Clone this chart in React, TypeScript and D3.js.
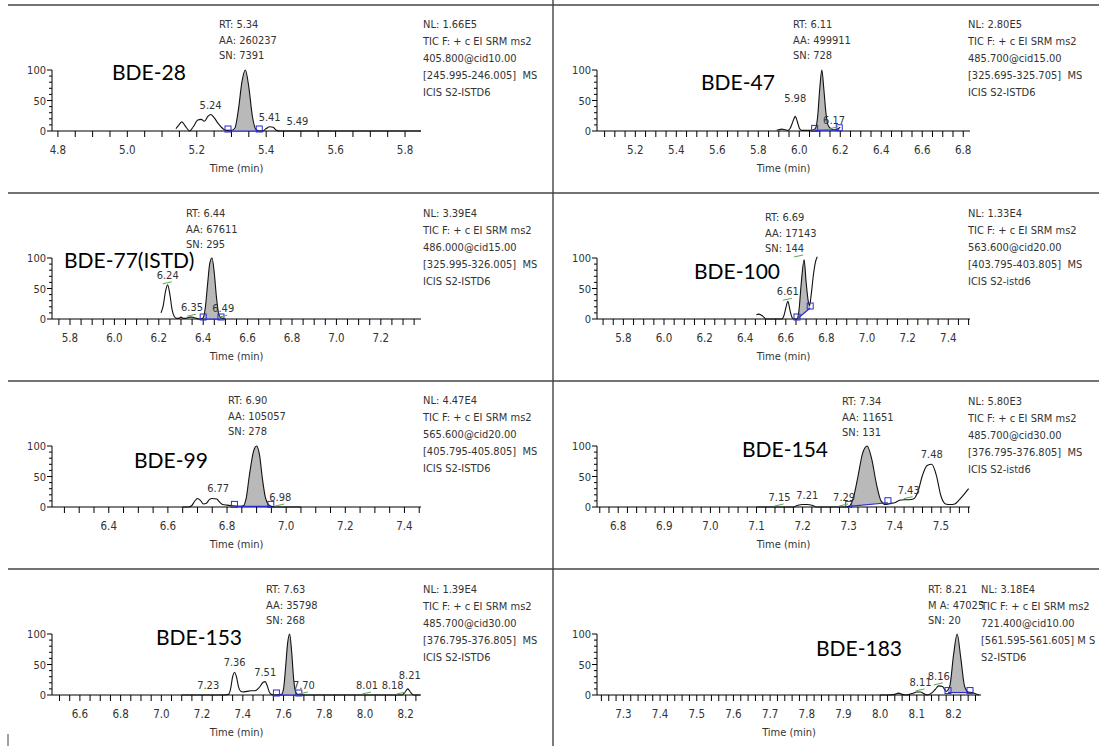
import React from "react";
import * as d3 from "d3";

type Pt = [number, number];
type PeakLabel = [string, number, number, boolean];

// ---- data ----
const compounds = ["BDE-28", "BDE-47", "BDE-77(ISTD)", "BDE-100", "BDE-99", "BDE-154", "BDE-153", "BDE-183"];

const rtBlocks = [
  ["RT: 5.34", "AA: 260237", "SN: 7391"],
  ["RT: 6.11", "AA: 499911", "SN: 728"],
  ["RT: 6.44", "AA: 67611", "SN: 295"],
  ["RT: 6.69", "AA: 17143", "SN: 144"],
  ["RT: 6.90", "AA: 105057", "SN: 278"],
  ["RT: 7.34", "AA: 11651", "SN: 131"],
  ["RT: 7.63", "AA: 35798", "SN: 268"],
  ["RT: 8.21", "M A: 47025", "SN: 20"],
];

const nlBlocks = [
  ["NL: 1.66E5", "TIC F: + c EI SRM ms2", "405.800@cid10.00", "[245.995-246.005]  MS", "ICIS S2-ISTD6"],
  ["NL: 2.80E5", "TIC F: + c EI SRM ms2", "485.700@cid15.00", "[325.695-325.705]  MS", "ICIS S2-ISTD6"],
  ["NL: 3.39E4", "TIC F: + c EI SRM ms2", "486.000@cid15.00", "[325.995-326.005]  MS", "ICIS S2-ISTD6"],
  ["NL: 1.33E4", "TIC F: + c EI SRM ms2", "563.600@cid20.00", "[403.795-403.805]  MS", "ICIS S2-istd6"],
  ["NL: 4.47E4", "TIC F: + c EI SRM ms2", "565.600@cid20.00", "[405.795-405.805]  MS", "ICIS S2-ISTD6"],
  ["NL: 5.80E3", "TIC F: + c EI SRM ms2", "485.700@cid30.00", "[376.795-376.805]  MS", "ICIS S2-istd6"],
  ["NL: 1.39E4", "TIC F: + c EI SRM ms2", "485.700@cid30.00", "[376.795-376.805]  MS", "ICIS S2-ISTD6"],
  ["NL: 3.18E4", "TIC F: + c EI SRM ms2", "721.400@cid10.00", "[561.595-561.605] M S", "S2-ISTD6"],
];

const xDomains: [number, number][] = [
  [4.783, 5.846],
  [5.013, 6.833],
  [5.719, 7.381],
  [5.67, 7.507],
  [6.208, 7.456],
  [6.754, 7.563],
  [6.463, 8.275],
  [7.228, 8.275],
];
const tickSteps = [0.05, 0.05, 0.05, 0.05, 0.05, 0.02, 0.05, 0.02];
const labelSteps = [0.2, 0.2, 0.2, 0.2, 0.2, 0.1, 0.2, 0.1];
const yTickValues = [0, 10, 20, 30, 40, 50, 60, 70, 80, 90, 100];
const yLabelValues = [0, 50, 100];

// relative abundance (%) vs time (min)
const trace28: Pt[] = [
  [5.14, 4], [5.15, 11], [5.157, 15], [5.167, 8], [5.18, 0], [5.19, 7], [5.203, 18], [5.213, 19],
  [5.222, 16], [5.232, 24], [5.24, 27], [5.25, 22], [5.262, 12], [5.275, 4], [5.285, 1], [5.30, 1],
  [5.31, 5], [5.32, 35], [5.33, 80], [5.34, 100], [5.35, 72], [5.36, 25], [5.37, 3], [5.38, 0],
  [5.39, 0], [5.40, 4], [5.41, 7], [5.42, 6], [5.43, 1], [5.44, 0], [5.60, 0], [5.846, 0],
];
const trace47: Pt[] = [
  [5.89, 1], [5.90, 2], [5.915, 3], [5.93, 2], [5.945, 1], [5.955, 4], [5.965, 12], [5.975, 21],
  [5.98, 24], [5.99, 16], [6.00, 5], [6.01, 1], [6.03, 1], [6.05, 1], [6.07, 2], [6.08, 5],
  [6.09, 25], [6.10, 70], [6.11, 100], [6.12, 68], [6.13, 30], [6.14, 10], [6.15, 5], [6.16, 3],
  [6.17, 2], [6.18, 2], [6.19, 4], [6.20, 6],
];
const trace77: Pt[] = [
  [6.21, 10], [6.22, 22], [6.23, 45], [6.24, 56], [6.25, 40], [6.26, 15], [6.27, 4], [6.28, 1],
  [6.29, 1], [6.30, 3], [6.31, 1], [6.32, 1], [6.33, 2], [6.34, 3], [6.35, 3], [6.36, 2],
  [6.37, 1], [6.38, 0], [6.39, 0], [6.40, 2], [6.41, 20], [6.42, 58], [6.43, 92], [6.44, 100],
  [6.45, 75], [6.46, 35], [6.47, 8], [6.48, 2], [6.49, 1], [6.50, 0],
];
const trace100: Pt[] = [
  [6.455, 7], [6.465, 8], [6.48, 6], [6.495, 2], [6.50, 0], [6.52, 0], [6.54, 0], [6.56, 0],
  [6.58, 0], [6.59, 5], [6.60, 18], [6.61, 29], [6.62, 15], [6.63, 3], [6.64, 0], [6.655, 0],
  [6.665, 15], [6.675, 55], [6.69, 97], [6.70, 60], [6.71, 30], [6.717, 22], [6.725, 40],
  [6.735, 70], [6.745, 92], [6.755, 102],
];
const trace99: Pt[] = [
  [6.65, 0], [6.67, 0], [6.68, 2], [6.69, 9], [6.70, 14], [6.71, 11], [6.72, 5], [6.73, 6],
  [6.74, 12], [6.75, 14], [6.765, 13], [6.775, 8], [6.785, 4], [6.80, 3], [6.82, 2], [6.84, 1],
  [6.855, 2], [6.865, 15], [6.875, 50], [6.89, 92], [6.90, 100], [6.91, 85], [6.92, 45],
  [6.93, 15], [6.94, 4], [6.95, 1], [6.965, 0], [7.05, 0],
];
const trace154: Pt[] = [
  [7.10, 0], [7.14, 0], [7.18, 0], [7.19, 3], [7.20, 4], [7.21, 4], [7.22, 3], [7.23, 0],
  [7.26, 0], [7.29, 0], [7.30, 1], [7.31, 15], [7.32, 50], [7.33, 88], [7.34, 100], [7.35, 78],
  [7.36, 38], [7.37, 10], [7.38, 4], [7.39, 6], [7.40, 7], [7.41, 11], [7.42, 12], [7.43, 12],
  [7.44, 13], [7.45, 25], [7.46, 52], [7.47, 68], [7.48, 70], [7.49, 52], [7.50, 18], [7.51, 5],
  [7.52, 4], [7.53, 5], [7.54, 12], [7.56, 30],
];
const trace153: Pt[] = [
  [7.10, 0], [7.20, 0], [7.30, 0], [7.33, 1], [7.34, 10], [7.35, 30], [7.36, 37], [7.37, 28],
  [7.38, 12], [7.39, 6], [7.40, 5], [7.42, 6], [7.44, 7], [7.46, 7], [7.48, 12], [7.50, 21],
  [7.51, 22], [7.52, 15], [7.53, 5], [7.54, 1], [7.56, 0], [7.59, 1], [7.60, 10], [7.61, 45],
  [7.62, 85], [7.63, 100], [7.64, 70], [7.65, 25], [7.66, 4], [7.67, 1], [7.70, 0], [7.90, 0],
  [8.10, 0], [8.18, 0], [8.195, 4], [8.21, 10], [8.225, 4], [8.24, 0], [8.27, 0],
];
const trace183: Pt[] = [
  [8.00, 0], [8.02, 0], [8.04, 1], [8.05, 3], [8.06, 1], [8.07, 0], [8.08, 1], [8.09, 3],
  [8.10, 5], [8.11, 5], [8.12, 2], [8.13, 0], [8.14, 3], [8.15, 9], [8.16, 15], [8.17, 14],
  [8.18, 6], [8.19, 15], [8.20, 65], [8.21, 100], [8.22, 60], [8.23, 15], [8.24, 5], [8.25, 4],
  [8.26, 2], [8.27, 0],
];
const traces = [trace28, trace47, trace77, trace100, trace99, trace154, trace153, trace183];

// integration start / end [time, level]
const integrations: [Pt, Pt][] = [
  [[5.29, 0], [5.38, 0]],
  [[6.075, 1], [6.195, 2]],
  [[6.40, 0], [6.48, 0]],
  [[6.655, 0], [6.72, 18]],
  [[6.825, 1], [6.948, 1]],
  [[7.30, 1], [7.385, 7]],
  [[7.565, 0], [7.675, 0]],
  [[8.185, 4], [8.245, 4]],
];

// [text, time, apex level, green apex mark]
const peakLabels: PeakLabel[][] = [
  [["5.24", 5.24, 27, false], ["5.41", 5.41, 7, false], ["5.49", 5.49, 0, false]],
  [["5.98", 5.98, 24, false], ["6.17", 6.17, 2, true]],
  [["6.24", 6.24, 56, true], ["6.35", 6.35, 3, true], ["6.49", 6.49, 1, true]],
  [["6.61", 6.61, 29, true], ["", 6.665, 100, true]],
  [["6.77", 6.77, 14, false], ["6.98", 6.98, 0, true]],
  [["7.15", 7.15, 0, true], ["7.21", 7.21, 4, false], ["7.29", 7.29, 0, true], ["7.43", 7.43, 12, true], ["7.48", 7.48, 70, false]],
  [["7.23", 7.23, 0, false], ["7.36", 7.36, 37, false], ["7.51", 7.51, 22, false], ["7.70", 7.70, 0, true], ["8.01", 8.01, 0, true], ["8.18", 8.18, 0, true], ["8.21", 8.21, 10, false]],
  [["8.11", 8.11, 5, true], ["8.16", 8.16, 15, true]],
];

// ---- layout ----
const layout = [
  { ax: 52, xEnd: 421, y0: 131, rtX: 219, rtY: 28, nlX: 423, nlY: 28, lblX: 112, lblY: 80 },
  { ax: 597, xEnd: 970, y0: 131, rtX: 793, rtY: 28, nlX: 968, nlY: 28, lblX: 701, lblY: 90 },
  { ax: 52, xEnd: 421, y0: 319, rtX: 186, rtY: 217, nlX: 423, nlY: 217, lblX: 64, lblY: 268 },
  { ax: 597, xEnd: 970, y0: 319, rtX: 765, rtY: 221, nlX: 968, nlY: 217, lblX: 694, lblY: 279 },
  { ax: 52, xEnd: 421, y0: 507, rtX: 228, rtY: 404, nlX: 423, nlY: 404, lblX: 134, lblY: 468 },
  { ax: 597, xEnd: 970, y0: 507, rtX: 842, rtY: 405, nlX: 968, nlY: 405, lblX: 742, lblY: 457 },
  { ax: 52, xEnd: 421, y0: 695, rtX: 266, rtY: 593, nlX: 423, nlY: 593, lblX: 156, lblY: 645 },
  { ax: 597, xEnd: 981, y0: 695, rtX: 928, rtY: 593, nlX: 981, nlY: 593, lblX: 816, lblY: 656 },
];
// small pixel nudges for crowded peak labels [panel, label, dx, dy]
const labelNudges: [number, string, number, number][] = [
  [6, "8.18", -9, 0],
  [6, "8.21", 2, -4],
  [1, "5.98", 0, -8],
];
const plotH = 61;
const narrow = "'Liberation Sans Narrow', 'Arial Narrow', 'DejaVu Sans Condensed', sans-serif";
const bigFont = "Lato, 'Open Sans', sans-serif";
const textCol = "#333";
const blue = "#2b2bd0";
const green = "#55aa55";

function Panel({ i }: { i: number }) {
  const L = layout[i];
  const dom = xDomains[i];
  const x = d3.scaleLinear().domain(dom).range([L.ax, L.xEnd]);
  const y = d3.scaleLinear().domain([0, 100]).range([L.y0, L.y0 - plotH]);
  const step = tickSteps[i];
  const k0 = Math.ceil(dom[0] / step - 1e-6);
  const k1 = Math.floor(dom[1] / step + 1e-6);
  const xt = d3.range(k0, k1 + 1).map((k) => +(k * step).toFixed(3));
  const lstep = labelSteps[i];
  const isLab = (v: number) => Math.abs(v / lstep - Math.round(v / lstep)) < 1e-4;

  const line = d3.line<Pt>().x((d) => x(d[0])).y((d) => y(d[1])).curve(d3.curveMonotoneX);
  const [s, e] = integrations[i];
  const base = (t: number) => s[1] + ((e[1] - s[1]) * (t - s[0])) / (e[0] - s[0]);
  const inner = traces[i].filter((p) => p[0] > s[0] && p[0] < e[0]);
  const fillPts: Pt[] = [[s[0], base(s[0])], ...inner, [e[0], base(e[0])]];
  const area = d3
    .area<Pt>()
    .x((d) => x(d[0]))
    .y0((d) => y(base(d[0])))
    .y1((d) => y(Math.max(d[1], base(d[0]))))
    .curve(d3.curveMonotoneX);
  const nudge = (txt: string) => labelNudges.find((n) => n[0] === i && n[1] === txt) || [i, txt, 0, 0];

  return (
    <g>
      {/* y axis */}
      <line x1={L.ax} x2={L.ax} y1={y(100)} y2={y(0)} stroke="#000" strokeWidth={1} />
      {yTickValues.map((v) => (
        <line key={"yt" + v} x1={L.ax - (yLabelValues.includes(v) ? 5 : 3)} x2={L.ax} y1={y(v)} y2={y(v)} stroke="#000" strokeWidth={1} />
      ))}
      {yLabelValues.map((v) => (
        <text key={"yl" + v} x={L.ax - 6} y={y(v) + 4} textAnchor="end" fontFamily={narrow} fontSize={11} fill={textCol}>
          {v}
        </text>
      ))}
      {/* x axis */}
      <line x1={L.ax} x2={L.xEnd} y1={L.y0} y2={L.y0} stroke="#000" strokeWidth={1} />
      {xt.map((v) => (
        <line key={"xt" + v} x1={x(v)} x2={x(v)} y1={L.y0} y2={L.y0 + 6} stroke="#000" strokeWidth={1} />
      ))}
      {xt.filter(isLab).map((v) => (
        <text key={"xl" + v} x={x(v)} y={L.y0 + 23} textAnchor="middle" fontFamily={narrow} fontSize={11.5} fill={textCol}>
          {d3.format(".1f")(v)}
        </text>
      ))}
      <text x={(L.ax + L.xEnd) / 2} y={L.y0 + 41} textAnchor="middle" fontFamily={narrow} fontSize={11} fill={textCol}>
        Time (min)
      </text>

      {/* integrated peak */}
      <path d={area(fillPts) || ""} fill="#b9b9b9" stroke="none" />
      <path d={line(traces[i]) || ""} fill="none" stroke="#111" strokeWidth={1.1} />
      <line x1={x(s[0])} y1={y(s[1])} x2={x(e[0])} y2={y(e[1])} stroke={blue} strokeWidth={1.2} />
      {[s, e].map((p, j) => (
        <rect key={"bx" + j} x={x(p[0]) - 3} y={y(p[1]) - 5} width={6} height={6} fill="none" stroke={blue} strokeWidth={1} />
      ))}

      {/* peak labels */}
      {peakLabels[i].map(([txt, t, apex, g], j) => {
        const [, , dx, dy] = nudge(txt);
        return (
          <g key={"pl" + j}>
            {g && (
              <line x1={x(t) - 5} x2={x(t) + 4} y1={y(apex) - 1} y2={y(apex) - 3} stroke={green} strokeWidth={1} />
            )}
            {txt && (
              <text x={x(t) + dx} y={y(apex) - 6 + dy} textAnchor="middle" fontFamily={narrow} fontSize={11} fill={textCol}>
                {txt}
              </text>
            )}
          </g>
        );
      })}

      {/* info blocks */}
      {rtBlocks[i].map((tx, j) => (
        <text key={"rt" + j} x={L.rtX} y={L.rtY + j * 15.5} fontFamily={narrow} fontSize={11} fill={textCol}>
          {tx}
        </text>
      ))}
      {nlBlocks[i].map((tx, j) => (
        <text key={"nl" + j} x={L.nlX} y={L.nlY + j * 17} fontFamily={narrow} fontSize={11} fill={textCol} style={{ whiteSpace: "pre" }}>
          {tx}
        </text>
      ))}
      <text x={L.lblX} y={L.lblY} fontFamily={bigFont} fontSize={21} fill="#000">
        {compounds[i]}
      </text>
    </g>
  );
}

const dividerRows = [5, 193, 381, 569];

export default function App() {
  return (
    <svg width={1099} height={746} style={{ position: "absolute", left: 0, top: 0, background: "#fff" }}>
      {dividerRows.map((yy) => (
        <line key={"d" + yy} x1={8} x2={1099} y1={yy} y2={yy} stroke="#444" strokeWidth={1.4} />
      ))}
      <line x1={553} x2={553} y1={0} y2={746} stroke="#444" strokeWidth={1.4} />
      <line x1={8} x2={8} y1={734} y2={746} stroke="#444" strokeWidth={1} />
      {compounds.map((c, i) => (
        <Panel key={c} i={i} />
      ))}
    </svg>
  );
}
